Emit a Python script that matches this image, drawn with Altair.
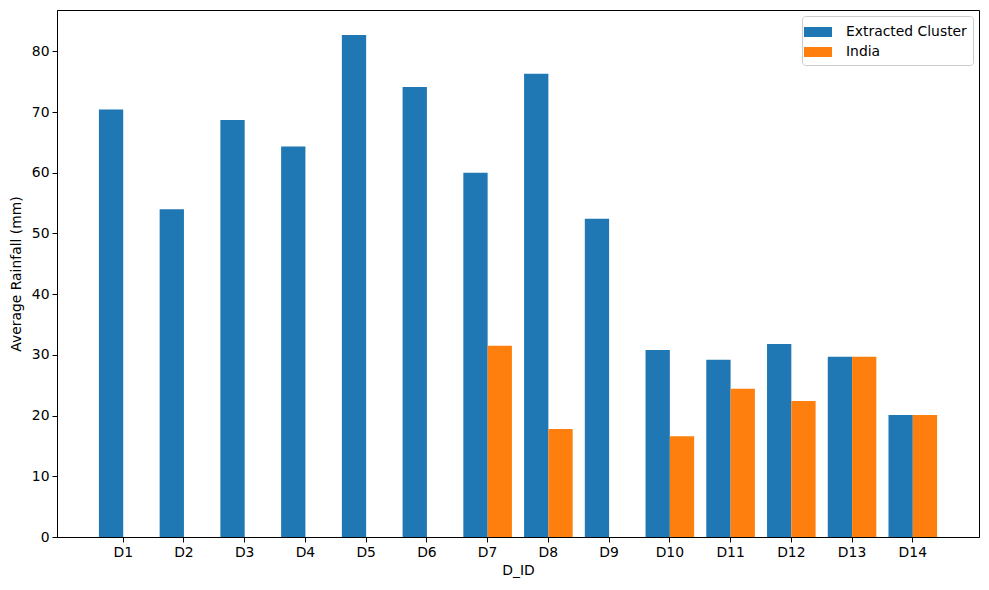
import altair as alt
import pandas as pd

ids = ["D1", "D2", "D3", "D4", "D5", "D6", "D7", "D8", "D9", "D10", "D11", "D12", "D13", "D14"]
cluster = [70.4, 54.0, 68.7, 64.3, 82.7, 74.1, 60.0, 76.3, 52.4, 30.8, 29.2, 31.8, 29.7, 20.1]
india = [None, None, None, None, None, None, 31.5, 17.8, None, 16.6, 24.4, 22.4, 29.7, 20.1]
series = ["Extracted Cluster", "India"]
colors = ["#1f77b4", "#ff7f0e"]
y_ticks = [0, 10, 20, 30, 40, 50, 60, 70, 80]

rows = []
for d, c, i in zip(ids, cluster, india):
    rows.append({"D_ID": d, "Series": series[0], "Rain": c})
    if i is not None:
        rows.append({"D_ID": d, "Series": series[1], "Rain": i})
df = pd.DataFrame(rows)

font = "DejaVu Sans"
fs = 13.9

chart = alt.Chart(df).mark_bar().encode(
    x=alt.X("D_ID:N", sort=ids, title="D_ID",
            scale=alt.Scale(paddingInner=0.2, paddingOuter=0.69),
            axis=alt.Axis(labelAngle=0, ticks=True, tickSize=5, tickColor="black",
                          domainColor="black", labelColor="black", labelFont=font,
                          labelFontSize=fs, titleFont=font, titleFontSize=fs,
                          titleFontWeight="normal", titleColor="black", labelPadding=3,
                          titlePadding=5, grid=False)),
    xOffset=alt.XOffset("Series:N", sort=series,
                        scale=alt.Scale(domain=series, paddingInner=0, paddingOuter=0)),
    y=alt.Y("Rain:Q", title="Average Rainfall (mm)",
            scale=alt.Scale(domain=[0, 86.8], nice=False, zero=True),
            axis=alt.Axis(values=y_ticks, tickSize=5, tickColor="black", domainColor="black",
                          labelColor="black", labelFont=font, labelFontSize=fs,
                          titleFont=font, titleFontSize=fs, titleFontWeight="normal",
                          titleColor="black", labelPadding=3, titlePadding=8, grid=False)),
    color=alt.Color("Series:N", sort=series,
                    scale=alt.Scale(domain=series, range=colors),
                    legend=alt.Legend(title=None, orient="none", legendX=745, legendY=6,
                                      symbolType="M-1.4,-0.5L1.4,-0.5L1.4,0.5L-1.4,0.5Z",
                                      symbolSize=400, symbolStrokeWidth=0,
                                      labelFont=font, labelFontSize=fs, labelColor="black",
                                      labelOffset=18, rowPadding=3, padding=6,
                                      fillColor="white", strokeColor="#cccccc",
                                      cornerRadius=3)),
).properties(
    width=922, height=527,
    autosize=alt.AutoSizeParams(type="none"),
    padding={"left": 49, "top": 2, "right": 2, "bottom": 45},
).configure_view(
    stroke="black", strokeWidth=1
)

chart.save("out.html", embed_options={"renderer": "svg", "actions": False})
